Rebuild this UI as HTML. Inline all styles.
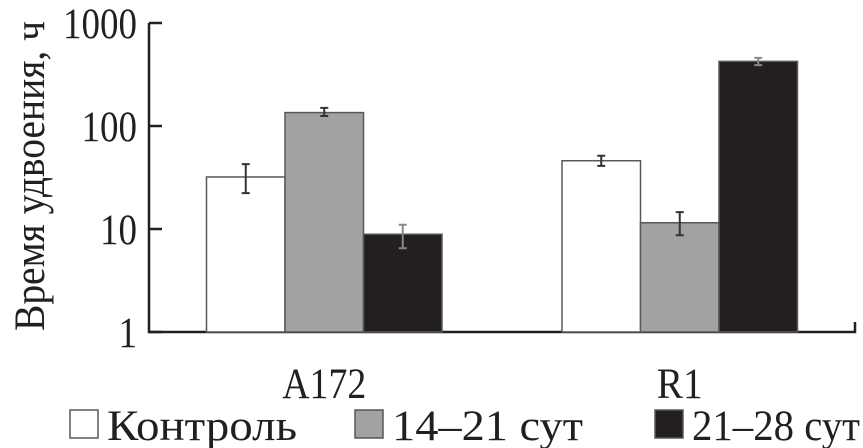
<!DOCTYPE html>
<html><head><meta charset="utf-8"><style>
body{margin:0;background:#fff;}
svg{display:block;font-family:"Liberation Serif","DejaVu Serif",serif;}
</style></head><body>
<svg id="chart" width="863" height="448">
<g id="axes"></g><g id="bars"></g><g id="legend"></g>
</svg>
<script>
const groups = ["A172", "R1"];
const seriesNames = ["Контроль", "14–21 сут", "21–28 сут"];
const control = [32, 46];
const d14 = [135, 11.5];
const d21 = [8.9, 424];
const errLow = [[22.3, 41], [125, 8.7], [6.5, 390]];
const errHigh = [[42.6, 51.4], [150, 14.6], [11, 458]];
const yTicks = [1, 10, 100, 1000];
const yTickLabels = ["1", "10", "100", "1000"];

const NS = "http://www.w3.org/2000/svg";
const X0 = 149, X1 = 855, Y1 = 332, DEC = 103;
const fills = ["#ffffff", "#a0a2a4", "#231f20"];
const y = v => Y1 - Math.log10(v) * DEC;
const groupStart = [206.5, 562];
const barW = 78.5;
function mk(tag, attrs, parent){const e=document.createElementNS(NS,tag);for(const k in attrs)e.setAttribute(k,attrs[k]);parent.appendChild(e);return e;}
const axes=document.getElementById('axes'), bars=document.getElementById('bars'), leg=document.getElementById('legend');
const FS=43;

let a=mk('path',{d:`M${X0} ${y(1000)}V${Y1}H${X1}V${Y1-10}`,fill:'none',stroke:'#231f20','stroke-width':2.5},axes);


yTicks.forEach((t,i)=>{
  const l=mk('line',{x1:X0,x2:X0+13,y1:y(t),y2:y(t),stroke:'#231f20','stroke-width':2.5},axes);
  
  
  const tx=mk('text',{x:137,y:y(t)+15,'text-anchor':'end','font-size':FS,fill:'#231f20'},axes);
  tx.textContent=yTickLabels[i];
  tx.setAttribute('textLength',yTickLabels[i].length*18.5);
  tx.setAttribute('lengthAdjust','spacingAndGlyphs');
  
  
});
const yt=mk('text',{transform:'translate(44,176) rotate(-90)','text-anchor':'middle','font-size':FS,fill:'#231f20',textLength:310,lengthAdjust:'spacingAndGlyphs'},axes);
yt.textContent='Время удвоения, ч';



const series=[control,d14,d21];
groups.forEach((g,gi)=>{
  series.forEach((s,si)=>{
    const x=groupStart[gi]+si*barW, top=y(s[gi]);
    const r=mk('rect',{x:x,y:top,width:barW,height:Y1-top,fill:fills[si],stroke:'#58585a','stroke-width':1.5},bars);
    
    
    const cx=x+barW/2, yl=y(errLow[si][gi]), yh=y(errHigh[si][gi]);
    const ec=si===2?'#888':'#333';
    const e=mk('path',{d:`M${cx} ${yh}V${yl}M${cx-4} ${yh}H${cx+4}M${cx-4} ${yl}H${cx+4}`,stroke:ec,'stroke-width':2,fill:'none'},bars);
    
    
  });
  const c=mk('text',{x:groupStart[gi]+barW*1.5,y:398,'text-anchor':'middle','font-size':FS,fill:'#231f20'},axes);
  c.textContent=g;
  c.setAttribute('textLength',g.length===4?84:46);
  c.setAttribute('lengthAdjust','spacingAndGlyphs');
  
  
});

const legX=[70,355,655];
const legW=[190,191,168];
seriesNames.forEach((n,i)=>{
  const b=mk('rect',{x:legX[i],y:410,width:28,height:28,fill:fills[i],stroke:'#58585a','stroke-width':1.5},leg);
  
  
  const t=mk('text',{x:legX[i]+37,y:440,'font-size':FS,fill:'#231f20',textLength:legW[i],lengthAdjust:'spacingAndGlyphs'},leg);
  t.textContent=n;
  
  
});
</script>
</body></html>
